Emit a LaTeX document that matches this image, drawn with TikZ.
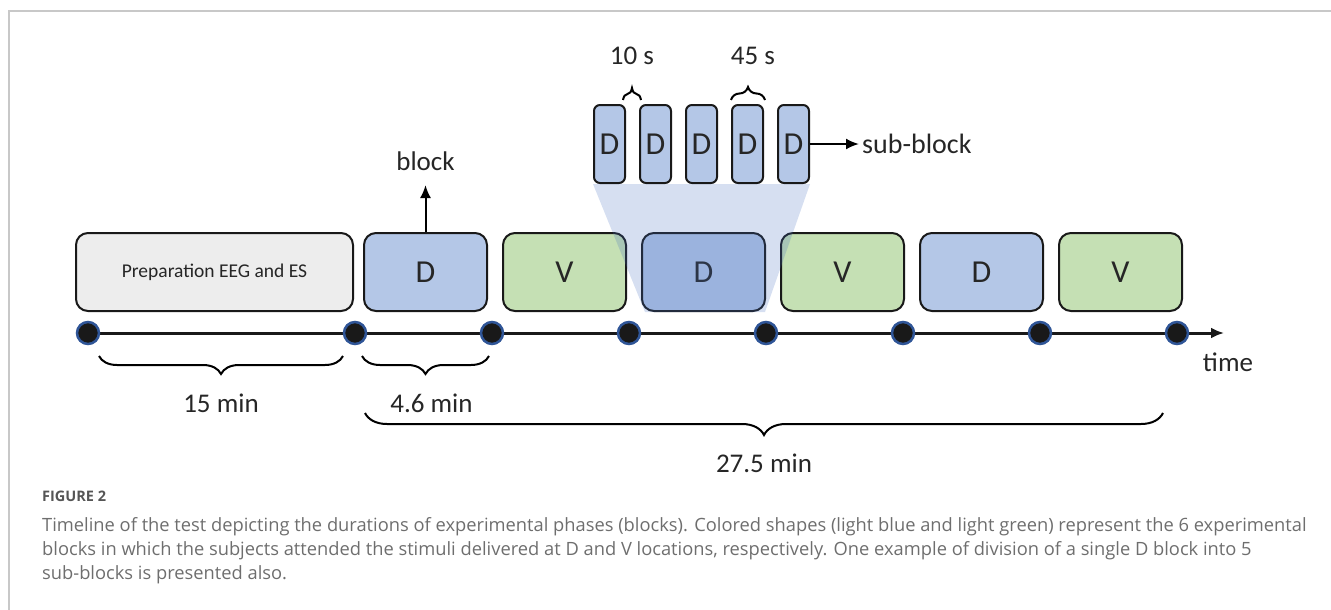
\documentclass[tikz,border=0pt]{standalone}
\usepackage{fontspec}
\setmainfont{Carlito}
\newfontfamily\capfont{Open Sans}
\usetikzlibrary{arrows.meta}
\usetikzlibrary{calc}
\usetikzlibrary{positioning}
\usetikzlibrary{decorations.pathreplacing}

\definecolor{prepgray}{HTML}{EDEDED}
\definecolor{dblue}{HTML}{B4C7E7}
\definecolor{vgreen}{HTML}{C5E0B4}
\definecolor{zoomblue}{HTML}{446DBF}
\definecolor{dotblue}{HTML}{2F5597}
\definecolor{txt}{HTML}{262626}
\definecolor{capgray}{HTML}{6E6E6E}
\definecolor{figgray}{HTML}{555555}
\definecolor{framegray}{HTML}{C8C8C8}

\tikzset{
    blockbox/.style={draw=black!90, line width=2pt, rounded corners=12pt,
        minimum width=123pt, minimum height=78pt, inner sep=0pt, text=txt,
        font=\fontsize{32}{32}\selectfont},
    subbox/.style={draw=black!90, line width=2pt, rounded corners=6pt, fill=dblue,
        minimum width=31pt, minimum height=78pt, inner sep=0pt, text=txt,
        font=\fontsize{32}{32}\selectfont},
    tdot/.style={circle, draw=dotblue, fill=black!90, line width=2.5pt,
        minimum size=22pt, inner sep=0pt},
    lbl/.style={text=txt, font=\fontsize{27}{27}\selectfont, inner sep=0pt},
    brc/.style={decorate, decoration={brace, amplitude=#1}, line width=2pt},
    capline/.style={anchor=west, inner sep=0pt, text=capgray,
        font=\capfont\fontsize{18.3}{18.3}\selectfont},
}

\begin{document}
\begin{tikzpicture}[x=1pt, y=-1pt, >={Latex[length=13pt,width=11pt]}]
    \useasboundingbox (0,0) rectangle (1331,610);
    \draw [framegray, line width=2pt] (9,610) -- (9,11) -- (1331,11);

    \node [blockbox, fill=prepgray, minimum width=277pt, font=\fontsize{19.5}{19.5}\selectfont] (prep) at (214.5,272) {Preparation EEG and ES};
    \node [blockbox, fill=dblue] (d1) [right=9pt of prep] {D};
    \node [blockbox, fill=vgreen] (v1) [right=14pt of d1] {V};
    \node [blockbox, fill=dblue] (d2) [right=14pt of v1] {D};
    \node [blockbox, fill=vgreen] (v2) [right=14pt of d2] {V};
    \node [blockbox, fill=dblue] (d3) [right=14pt of v2] {D};
    \node [blockbox, fill=vgreen] (v3) [right=14pt of d3] {V};

    \node [subbox] (s1) at (609.5,144) {D};
    \node [subbox] (s2) [right=13pt of s1] {D};
    \node [subbox] (s3) [right=13pt of s2] {D};
    \node [subbox] (s4) [right=13pt of s3] {D};
    \node [subbox] (s5) [right=13pt of s4] {D};

    \fill [zoomblue, fill opacity=0.22]
        (s1.south west) -- (s5.south east)
        -- ($(d2.south east)+(-1,0)$) -- ($(d2.south west)+(4,0)$) -- cycle;

    \node [lbl] (blocklbl) [above=61pt of d1] {block};
    \node [lbl, anchor=west, font=\fontsize{28}{28}\selectfont] (sublbl) [right=52pt of s5] {sub-block};
    \draw [->, line width=2pt, shorten >=14pt] (d1.north) -- (blocklbl.south);
    \draw [->, line width=2pt, shorten >=3pt] (s5.east) -- (sublbl.west);

    \draw [brc=12pt] ($(s1.north east)+(-3,-4)$) -- ($(s2.north west)+(2,-4)$)
        node [lbl, midway, above=34pt] {10 s};
    \draw [brc=13pt] ($(s4.north west)+(0,-4)$) -- ($(s4.north east)+(1,-4)$)
        node [lbl, midway, above=34pt, xshift=5pt] {45 s};

    \coordinate (tstart) at (88,333);
    \coordinate (tend) at (1224,333);
    \draw [->, line width=3pt, black!90] (tstart) -- (tend);
    \node [tdot] (p0) at (tstart) {};
    \foreach \i in {1,...,7}
        \node [tdot] (p\i) at (218+137*\i,333) {};
    \node [lbl] (timelbl) at (1228,362) {time};

    \draw [brc=18pt, decoration={mirror}] ($(p0)+(11,23)$) -- ($(p1)+(-12,23)$)
        node [lbl, midway, below=37pt] {15 min};
    \draw [brc=18pt, decoration={mirror}] ($(p1)+(7,23)$) -- ($(p2)+(-3,23)$)
        node [lbl, midway, below=37pt, xshift=6pt] {4.6 min};
    \draw [brc=22pt, decoration={mirror}] ($(p1)+(10,80)$) -- ($(p7)+(-14,80)$)
        node [lbl, midway, below=40pt] {27.5 min};

    \node [capline, text=figgray, font=\capfont\bfseries\fontsize{14.5}{14.5}\selectfont] (fig) at (42,496) {FIGURE 2};
    \node [capline] (cap1) at (42,527) {Timeline of the test depicting the durations of experimental phases (blocks). Colored shapes (light blue and light green) represent the 6 experimental};
    \node [capline] (cap2) at (42,551) {blocks in which the subjects attended the stimuli delivered at D and V locations, respectively. One example of division of a single D block into 5};
    \node [capline] (cap3) at (42,575) {sub-blocks is presented also.};
\end{tikzpicture}
\end{document}
